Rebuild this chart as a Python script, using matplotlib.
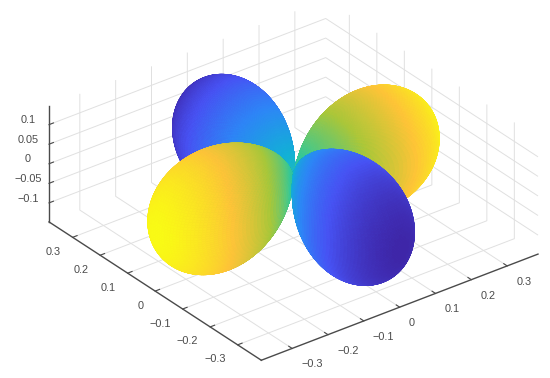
import numpy as np
import matplotlib
matplotlib.use("Agg")
import matplotlib.pyplot as plt
from matplotlib.colors import LinearSegmentedColormap
from mpl_toolkits.mplot3d import proj3d

# Values
amplitude = 0.386
x_limits = [-0.386, 0.386]
y_limits = [-0.386, 0.386]
z_limits = [-0.1486, 0.1486]
xy_ticks = [-0.3, -0.2, -0.1, 0, 0.1, 0.2, 0.3]
xy_tick_labels = ["\u22120.3", "\u22120.2", "\u22120.1", "0", "0.1", "0.2", "0.3"]
z_ticks = [-0.1, -0.05, 0, 0.05, 0.1]
z_tick_labels = ["\u22120.1", "\u22120.05", "0", "0.05", "0.1"]
parula_colors = [(0.2422, 0.1504, 0.6603), (0.2810, 0.3228, 0.9579),
                 (0.1786, 0.5289, 0.9682), (0.0689, 0.6948, 0.8394),
                 (0.2161, 0.7843, 0.5923), (0.6720, 0.7793, 0.2227),
                 (0.9970, 0.7659, 0.2199), (0.9769, 0.9839, 0.0805)]

W, H = 550, 378
plt.rcParams["font.family"] = ["Liberation Sans", "DejaVu Sans"]
fig = plt.figure(figsize=(W / 100, H / 100), dpi=100)
ax = fig.add_axes([0, 0, 1, 1], projection="3d", proj_type="ortho")
ax.view_init(elev=30, azim=-127.5)
ax.set_xlim(*x_limits, view_margin=0)
ax.set_ylim(*y_limits, view_margin=0)
ax.set_zlim(*z_limits, view_margin=0)
ax.set_box_aspect((x_limits[1] - x_limits[0], y_limits[1] - y_limits[0],
                   z_limits[1] - z_limits[0]))


def corner_px(x, y, z):
    u, v, _ = proj3d.proj_transform(x, y, z, ax.get_proj())
    px, py = ax.transData.transform((u, v))
    return px, H - py


# Fit the projected box to the reference's pixel corners
target_left, target_right = (49.0, 222.0), (538.0, 254.0)
side = 378.0
cx, cy = 275.0, 189.0
for _ in range(3):
    ax.set_position([(cx - side / 2) / W, 1 - (cy + side / 2) / H, side / W, side / H])
    ax.apply_aspect()
    ax.M = ax.get_proj()
    pl = corner_px(x_limits[0], y_limits[1], z_limits[0])
    pr = corner_px(x_limits[1], y_limits[0], z_limits[0])
    k = (target_right[0] - target_left[0]) / (pr[0] - pl[0])
    side *= k
    ax.set_position([(cx - side / 2) / W, 1 - (cy + side / 2) / H, side / W, side / H])
    ax.apply_aspect()
    pl = corner_px(x_limits[0], y_limits[1], z_limits[0])
    pr = corner_px(x_limits[1], y_limits[0], z_limits[0])
    cx += (target_left[0] + target_right[0]) / 2 - (pl[0] + pr[0]) / 2
    cy += (target_left[1] + target_right[1]) / 2 - (pl[1] + pr[1]) / 2
ax.set_position([(cx - side / 2) / W, 1 - (cy + side / 2) / H, side / W, side / H])

# Orbital surface: r = |Y|, coloured by the signed value of Y
theta, phi = np.meshgrid(np.linspace(0, np.pi, 181), np.linspace(0, 2 * np.pi, 361))
Y = amplitude * np.sin(theta) ** 2 * np.cos(2 * phi)
r = np.abs(Y)
X_s = r * np.sin(theta) * np.cos(phi)
Y_s = r * np.sin(theta) * np.sin(phi)
Z_s = r * np.cos(theta)
cmap = LinearSegmentedColormap.from_list("parula", parula_colors)
C = cmap((Y + amplitude) / (2 * amplitude))
surf = ax.plot_surface(X_s, Y_s, Z_s, facecolors=C, rstride=1, cstride=1, shade=False,
                       linewidth=0.4, antialiased=True)
surf.set_edgecolor(surf._facecolor3d)

ink = "#4a4a4a"
for axis, ticks, labels, align, valign in ((ax.xaxis, xy_ticks, xy_tick_labels, "left", "top"),
                                           (ax.yaxis, xy_ticks, xy_tick_labels, "right", "top"),
                                           (ax.zaxis, z_ticks, z_tick_labels, "center", "baseline")):
    axis.set_ticks(ticks)
    axis.set_ticklabels(labels, fontsize=7.8, color=ink, ha=align, va=valign)
    axis.set_pane_color((1, 1, 1, 0))
    axis.pane.set_edgecolor((1, 1, 1, 0))
    axis.line.set_color(ink)
    axis.line.set_linewidth(1.0)
    axis._axinfo["grid"].update(color="#e0e0e0", linewidth=0.7)
    axis._axinfo["tick"].update(color=ink, linewidth={True: 0.8, False: 0.5},
                                inward_factor=0.0, outward_factor=0.2)
    axis.set_tick_params(colors=ink, pad=0)

fig.savefig("out.png", dpi=100)
